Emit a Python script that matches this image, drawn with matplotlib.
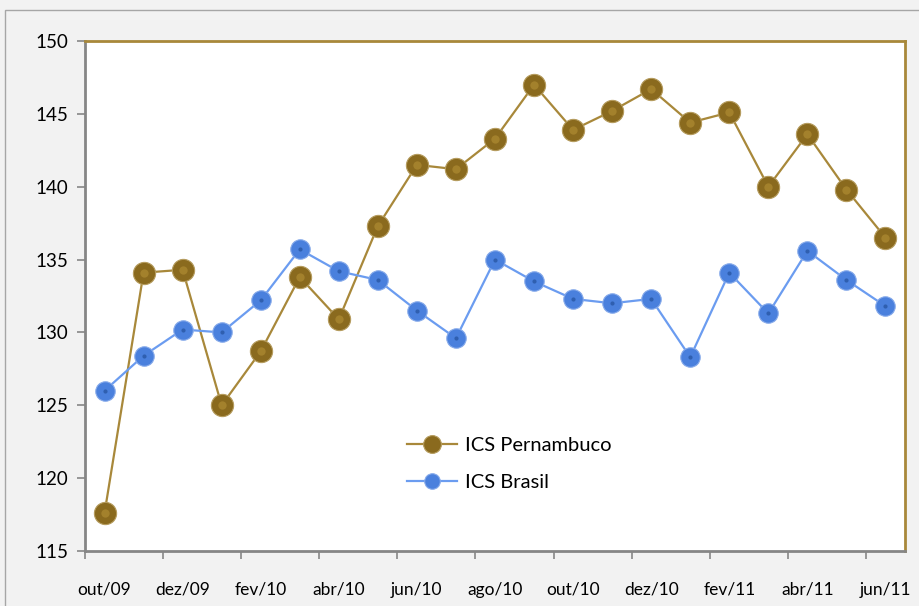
import numpy as np
import matplotlib
matplotlib.use("Agg")
import matplotlib.pyplot as plt
from matplotlib.patches import Rectangle

plt.rcParams['font.family'] = ['Lato', 'DejaVu Sans']

# months out/09 .. jun/11
months = ["out/09", "nov/09", "dez/09", "jan/10", "fev/10", "mar/10", "abr/10",
          "mai/10", "jun/10", "jul/10", "ago/10", "set/10", "out/10", "nov/10",
          "dez/10", "jan/11", "fev/11", "mar/11", "abr/11", "mai/11", "jun/11"]

ics_pe = [117.6, 134.1, 134.3, 125.0, 128.7, 133.8, 130.9, 137.3, 141.5, 141.2,
          143.3, 147.0, 143.9, 145.2, 146.7, 144.4, 145.1, 140.0, 143.6, 139.8, 136.5]
ics_br = [126.0, 128.4, 130.2, 130.0, 132.2, 135.7, 134.2, 133.6, 131.5, 129.6,
          135.0, 133.5, 132.3, 132.0, 132.3, 128.3, 134.1, 131.3, 135.6, 133.6, 131.8]

yticks = [115, 120, 125, 130, 135, 140, 145, 150]

gold_line = "#a8883a"
gold_face = "#8a6a1e"
gold_edge = "#b59c5e"
blue_line = "#6b9cf0"
blue_face = "#4a80dd"
blue_edge = "#86aaea"

fig = plt.figure(figsize=(9.19, 6.06), dpi=100, facecolor="#f2f2f2")
# chart area border
fig.patches.append(Rectangle((5 / 919, -0.1), 2, (606 - 10) / 606 + 0.1,
                             transform=fig.transFigure, fill=False,
                             edgecolor="#a6a6a6", lw=1.0))

ax = fig.add_axes([85 / 919, 1 - 551 / 606, 820 / 919, 510 / 606])
ax.set_facecolor("white")

x = np.arange(len(months))
ax.plot(x, ics_pe, color=gold_line, lw=1.6, marker="o", ms=16,
        mfc=gold_face, mec=gold_edge, mew=0.8, label="ICS Pernambuco", zorder=3)
ax.plot(x, ics_br, color=blue_line, lw=1.6, marker="o", ms=14,
        mfc=blue_face, mec=blue_edge, mew=0.8, label="ICS Brasil", zorder=3)
# small highlight dot on the balls
ax.plot(x, ics_pe, ls="none", marker="o", ms=6, mfc="#a3812c", mec="none", zorder=4)
ax.plot(x, ics_br, ls="none", marker="o", ms=3, mfc="#2f5fb0", mec="none", zorder=4)

ax.set_xlim(-0.5, len(months) - 0.5)
ax.set_ylim(115, 150)
ax.set_yticks(yticks)
ax.set_yticklabels([str(v) for v in yticks], fontsize=13.5)

# labels every two months, tick marks on every second category boundary
ax.set_xticks(x[::2])
ax.set_xticklabels(months[::2], fontsize=12.5)
ax.tick_params(axis="x", length=0, pad=22)
ax.set_xticks(np.arange(-0.5, len(months), 2), minor=True)
ax.tick_params(axis="x", which="minor", length=6, color="#868686", width=1.2)
ax.tick_params(axis="y", length=6, color="#868686", width=1.2, pad=6)

for side in ["top", "right"]:
    ax.spines[side].set_color(gold_line)
    ax.spines[side].set_linewidth(2)
for side in ["left", "bottom"]:
    ax.spines[side].set_color("#868686")
    ax.spines[side].set_linewidth(2)

leg = ax.legend(loc="upper left", bbox_to_anchor=(0.37, 0.26), frameon=False,
                fontsize=14.5, handlelength=2.5, labelspacing=1.0, handletextpad=0.4,
                markerscale=0.8)

fig.savefig("out.png", dpi=100, facecolor=fig.get_facecolor())
